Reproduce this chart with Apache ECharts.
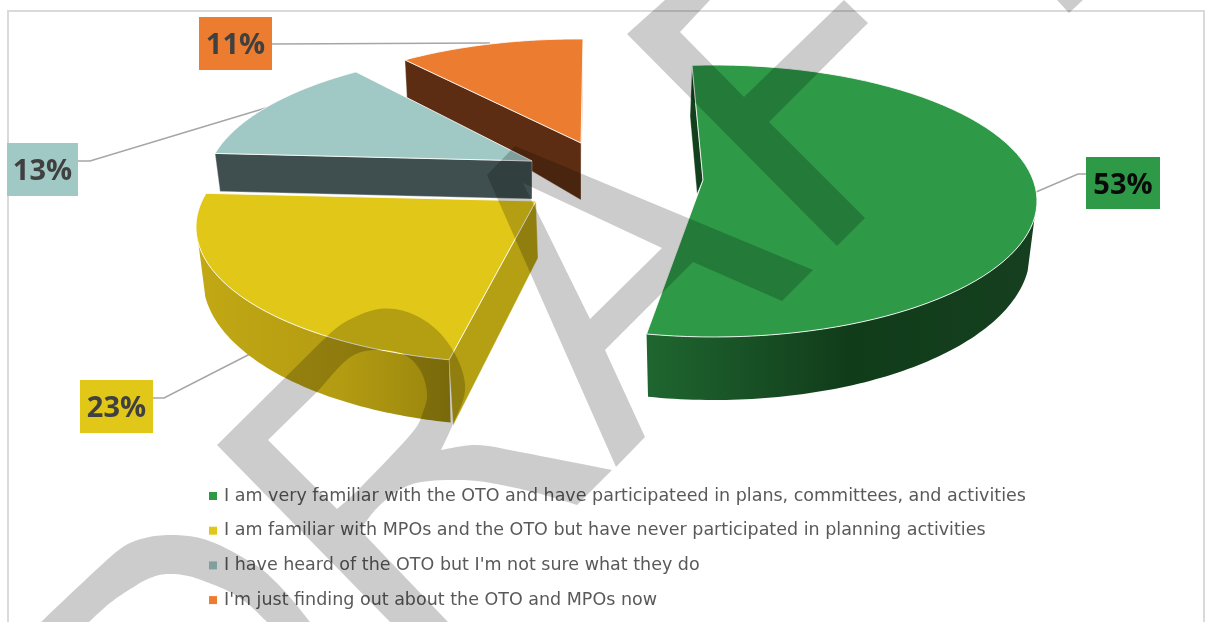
<!DOCTYPE html>
<html>
<head>
<meta charset="utf-8">
<style>html,body{margin:0;padding:0;background:#fff;overflow:hidden}#c{width:1217px;height:622px}</style>
<script src="https://cdn.jsdelivr.net/npm/echarts@6/dist/echarts.min.js"></script>
</head>
<body>
<div id="c"></div>
<script>
const categories = [
  "I am very familiar with the OTO and have participateed in plans, committees, and activities",
  "I am familiar with MPOs and the OTO but have never participated in planning activities",
  "I have heard of the OTO but I'm not sure what they do",
  "I'm just finding out about the OTO and MPOs now"
];
const values = [53, 23, 13, 11];
const topColors = ['#2E9946', '#E1C718', '#A0C9C6', '#EC7C30'];
const labelColors = ['#0a0a0a', '#404040', '#404040', '#404040'];

// Perspective layout of each exploded slice (not data)
const RX = 323, RY = 136;              // top ellipse
const BRX = 316, BRY = 147, BDY = 52;  // bottom ellipse
const layout = [
  {cx:714, cy:201, apex:[703,180], off:-3.9, k:1.027, side:[97,null],
   faces:[{from:'start', arcD:[-2,51], apexD:[-6,14], fill:'#12401D'}], z:5,
   box:[1086,157,74,52], leader:[[1036,192],[1078,174],[1086,174]],
   sideFill:[646,1035,[[0,'#1F6630'],[0.52,'#113C1A'],[1,'#153F1E']]]},
  {cx:519, cy:227, apex:[536,201], off:1.7, k:1.109, side:[null,263],
   faces:[{from:'start', arcD:[4,66], apexD:[2,57], fill:'#B59F12'}], z:4,
   box:[80,380,73,53], leader:[[250,354],[164,398],[153,398]],
   sideFill:[198,453,[[0,'#C2A814'],[0.55,'#B49C12'],[1,'#97840D']]]},
  {cx:528, cy:187, apex:[532,161], off:10.7, k:0.93, side:null,
   faces:[{from:'start', arcD:[5,38], apexD:[0,38], fill:'#3F4F4F'}], z:3,
   box:[7,143,71,53], leader:[[269,107],[90,161],[78,161]]},
  {cx:577, cy:175, apex:[581,143], off:7.4, k:0.84, side:null,
   faces:[{from:'end', arcD:[0,60], apexD:[0,30], fill:'rgba(243,175,133,0.75)'},
          {from:'start', arcD:[2,38], apexD:[0,57], fill:'#5C2D12'}], z:2,
   box:[199,17,73,53], leader:[[490,43],[272,44]]}
];

// "DRAFT" watermark outline (decoration in front of the chart)
function curve(p){ // Catmull-Rom densify
  const o=[];
  for(let i=0;i<p.length-1;i++){
    const a=p[Math.max(i-1,0)],b=p[i],c=p[i+1],d=p[Math.min(i+2,p.length-1)];
    for(let j=0;j<8;j++){const t=j/8,t2=t*t,t3=t2*t;
      o.push([0.5*(2*b[0]+(c[0]-a[0])*t+(2*a[0]-5*b[0]+4*c[0]-d[0])*t2+(3*b[0]-a[0]-3*c[0]+d[0])*t3),
              0.5*(2*b[1]+(c[1]-a[1])*t+(2*a[1]-5*b[1]+4*c[1]-d[1])*t2+(3*b[1]-a[1]-3*c[1]+d[1])*t3)]);}
  }
  o.push(p[p.length-1]);return o;
}
const wmD = [].concat(
  curve([[41,622],[80,585],[120,549],[145,538],[170,535],[195,537],[217,544],[242,557],[264,571],[288,595],[310,622]]),
  curve([[267,622],[248,604],[230,592],[209,583],[188,576],[167,574],[150,578],[132,588],[110,603],[89,622]]));
const wmR = [].concat([[217,445]],
  curve([[322,341],[345,322],[379,309],[410,313],[438,331],[458,360],[465,391],[453,424],[441,450]]),
  curve([[441,450],[477,445],[520,452],[612,470]]),
  curve([[577,505],[533,492],[477,481],[430,481],[403,488],[378,507],[360,530]]),
  [[448,622],[390,622],[217,445],[268,440]],
  curve([[337,509],[360,488],[411,434],[423,412],[427,393],[420,370],[403,354],[375,350],[349,358],[318,391]]),
  [[268,440]]);
const wmA = [[487,175],[515,146],[813,270],[782,301],[693,262],[605,350],[645,437],[616,467],[487,175],
             [523,183],[590,319],[662,248],[523,183]];
const wmF = [[665,0],[627,34],[837,246],[865,218],[769,122],[868,23],[844,0],[744,97],[680,32],[710,0]];
const wmT = [[1057,0],[1069,13],[1083,0]];
const watermark = [wmD, wmR, wmA, wmF, wmT];

const rad = d => d*Math.PI/180;
function cumBefore(i){ let s=0; for(let j=0;j<i;j++) s+=values[j]; return s; }
const add = (p,d) => [p[0]+d[0], p[1]+d[1]];

function renderSlice(i){
  return function(params, api){
    const L = layout[i], v = api.value(0);
    const t0 = cumBefore(i)/100*360 + L.off;
    const t1 = t0 + v*3.6*L.k;
    const top = t => [L.cx+RX*Math.sin(rad(t)), L.cy-RY*Math.cos(rad(t))];
    const bot = t => [L.cx+BRX*Math.sin(rad(t)), L.cy+BDY-BRY*Math.cos(rad(t))];
    const arc = (f,a,b) => { const o=[], n=80; for(let s=0;s<=n;s++) o.push(f(a+(b-a)*s/n)); return o; };
    const kids = [];
    kids.push({type:'polyline', shape:{points:L.leader}, style:{stroke:'#A6A6A6', lineWidth:1.5, fill:null}});
    if(L.side){
      const a = L.side[0]===null ? t0 : L.side[0];
      const b = L.side[1]===null ? t1 : L.side[1];
      const pts = arc(top,a,b).concat(arc(bot,a,b).reverse());
      kids.push({type:'polygon', shape:{points:pts}, style:{
        fill:{type:'linear', x:L.sideFill[0], y:0, x2:L.sideFill[1], y2:0, global:true,
              colorStops:L.sideFill[2].map(s=>({offset:s[0], color:s[1]}))}}});
    }
    L.faces.forEach(F=>{
      const p = top(F.from==='start'?t0:t1);
      kids.push({type:'polygon', shape:{points:[p, L.apex, add(L.apex,F.apexD), add(p,F.arcD)]},
        style:{fill:F.fill, stroke:'rgba(255,255,255,0.45)', lineWidth:0.8}});
    });
    kids.push({type:'polygon', shape:{points:[L.apex].concat(arc(top,t0,t1))},
      style:{fill:topColors[i], stroke:'rgba(255,255,255,0.85)', lineWidth:1}});
    const B = L.box;
    kids.push({type:'rect', shape:{x:B[0],y:B[1],width:B[2],height:B[3]}, style:{fill:topColors[i]}});
    kids.push({type:'text', x:B[0]+B[2]/2, y:B[1]+B[3]/2+2.5, style:{text:v+'%', align:'center', verticalAlign:'middle',
      font:'700 29px "Open Sans"', fill:labelColors[i]}});
    return {type:'group', children:kids};
  };
}

const chart = echarts.init(document.getElementById('c'), null, {renderer:'canvas'});
chart.setOption({
  animation:false,
  backgroundColor:'#fff',
  legend:{
    orient:'vertical', left:204, top:481, itemWidth:8, itemHeight:8, itemGap:14.7, icon:'rect',
    data:categories.map((n,i)=>({name:n, itemStyle:{color:topColors[i]}})),
    textStyle:{fontFamily:'"DejaVu Sans"', fontSize:17.5, color:'#595959', lineHeight:20, padding:[0,0,0,2]},
    selectedMode:false
  },
  graphic:{elements:[
    {type:'polyline', z:1, shape:{points:[[8,640],[8,11],[1204,11],[1204,640]]}, style:{stroke:'#DADADA', lineWidth:2, fill:null}},
  ].concat(watermark.map(p=>({type:'polygon', z:100, silent:true, shape:{points:p}, style:{fill:'rgba(0,0,0,0.2)'}})))},
  series: categories.map((n,i)=>({
    type:'custom', name:n, coordinateSystem:'none', z:layout[i].z, silent:true,
    itemStyle:{color:topColors[i]},
    data:[{name:n, value:[values[i]]}],
    renderItem:renderSlice(i)
  }))
});
</script>
</body>
</html>
